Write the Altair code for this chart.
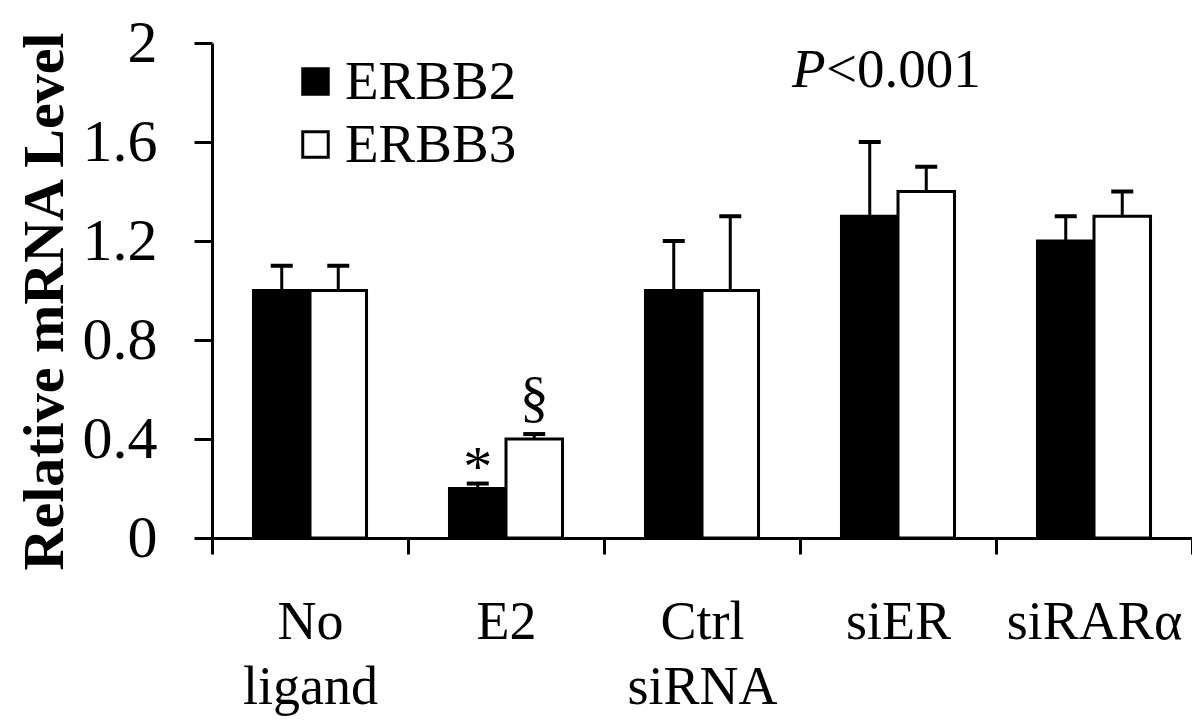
import altair as alt
import pandas as pd

groups = ["No ligand", "E2", "Ctrl siRNA", "siER", "siRARα"]
series = ["ERBB2", "ERBB3"]
erbb2_mean = [1.0, 0.2, 1.0, 1.3, 1.2]
erbb2_err = [0.1, 0.02, 0.2, 0.3, 0.1]
erbb3_mean = [1.0, 0.4, 1.0, 1.4, 1.3]
erbb3_err = [0.1, 0.02, 0.3, 0.1, 0.1]
y_ticks = [0, 0.4, 0.8, 1.2, 1.6, 2]

ann_text = ["*", "§"]
ann_group = ["E2", "E2"]
ann_series = ["ERBB2", "ERBB3"]
ann_y = [0.28, 0.56]

p_italic = ["P"]
p_rest = ["<0.001"]

rows = []
for g, m, e in zip(groups, erbb2_mean, erbb2_err):
    rows.append({"group": g, "series": "ERBB2", "mean": m, "upper": m + e})
for g, m, e in zip(groups, erbb3_mean, erbb3_err):
    rows.append({"group": g, "series": "ERBB3", "mean": m, "upper": m + e})
df = pd.DataFrame(rows)
ann_df = pd.DataFrame({"group": ann_group, "series": ann_series, "ann_y": ann_y, "txt": ann_text})

FONT = "Liberation Serif"

x_axis = alt.Axis(
    title=None, tickBand="extent", tickSize=16, tickWidth=3, tickColor="black",
    domainWidth=3, domainColor="black", labelFont=FONT, labelFontSize=54,
    labelColor="black", labelPadding=41, labelLineHeight=65, labelAngle=0,
    labelLimit=400, labelOverlap=False, labelExpr="split(datum.label, ' ')",
    labelBaseline="top",
)
y_axis = alt.Axis(
    title="Relative mRNA Level", values=y_ticks, format=".1~f", grid=False,
    tickSize=18, tickWidth=3, tickColor="black", domainWidth=3, domainColor="black",
    labelFont=FONT, labelFontSize=60, labelColor="black", labelPadding=37,
    titleFont=FONT, titleFontSize=58, titleFontWeight="bold", titleColor="black",
    titleAngle=270, titleX=-150, titleY=258, titleAlign="center", titleBaseline="alphabetic",
)

X = alt.X("group:N", sort=groups, scale=alt.Scale(paddingInner=0, paddingOuter=0), axis=x_axis)
XO = alt.XOffset("series:N", sort=series, scale=alt.Scale(paddingInner=0, paddingOuter=0.734))
yscale = alt.Scale(domain=[0, 2], nice=False, zero=True)

bars = alt.Chart(df).mark_bar(stroke="black", strokeWidth=3, opacity=1).encode(
    x=X, xOffset=XO,
    y=alt.Y("mean:Q", scale=yscale, axis=y_axis),
    fill=alt.Fill("series:N", scale=alt.Scale(domain=series, range=["black", "white"]),
                  legend=alt.Legend(title=None, orient="none", legendX=76, legendY=11,
                                    direction="vertical", symbolType="square", symbolSize=650,
                                    symbolStrokeColor="black", symbolStrokeWidth=3,
                                    symbolFillColor="white",
                                    labelFont=FONT, labelFontSize=55, labelColor="black",
                                    labelOffset=2, rowPadding=7, padding=0, labelLimit=400)),
)

err = alt.Chart(df).mark_rule(color="black", strokeWidth=3).encode(
    x=X, xOffset=XO,
    y=alt.Y("mean:Q", scale=yscale, axis=y_axis),
    y2="upper:Q",
)
caps = alt.Chart(df).mark_tick(color="black", orient="horizontal", size=22, thickness=4, opacity=1).encode(
    x=X, xOffset=XO,
    y=alt.Y("upper:Q", scale=yscale, axis=y_axis),
)
ann = alt.Chart(ann_df).mark_text(font=FONT, fontSize=58, color="black", baseline="middle").encode(
    x=X, xOffset=XO,
    y=alt.Y("ann_y:Q", scale=yscale, axis=y_axis),
    text="txt:N",
)
p1 = alt.Chart(pd.DataFrame({"t": p_italic})).mark_text(
    font=FONT, fontSize=55, fontStyle="italic", color="black", align="left", baseline="alphabetic"
).encode(x=alt.value(580), y=alt.value(44), text="t:N")
p2 = alt.Chart(pd.DataFrame({"t": p_rest})).mark_text(
    font=FONT, fontSize=55, color="black", align="left", baseline="alphabetic"
).encode(x=alt.value(614), y=alt.value(44), text="t:N")

chart = alt.layer(bars, err, caps, ann, p1, p2).properties(
    width=980, height=495,
    autosize=alt.AutoSizeParams(type="none"),
    padding={"left": 204, "top": 35, "right": 0, "bottom": 180},
    background="white",
).configure_view(stroke=None)

chart.save("out.html", embed_options={"renderer": "svg", "actions": False})
